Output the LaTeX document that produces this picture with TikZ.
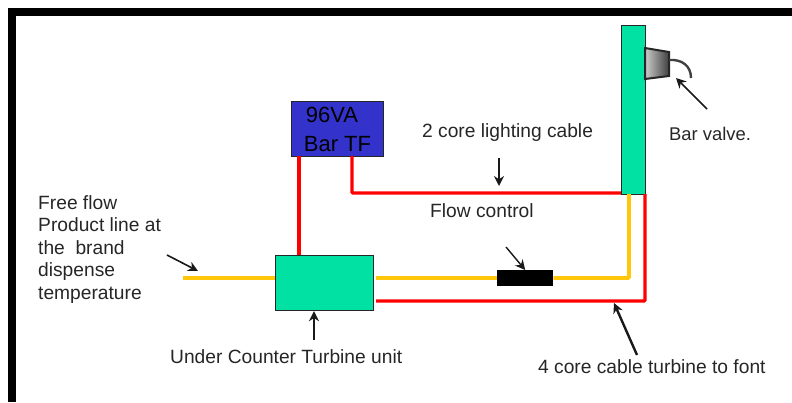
\documentclass[tikz,border=0pt]{standalone}
\usepackage{fontspec}
\setmainfont{Liberation Sans}
\usetikzlibrary{arrows.meta,positioning,shapes}
\definecolor{unitgreen}{HTML}{00E1A3}
\definecolor{tfblue}{HTML}{3333CC}
\definecolor{lineyellow}{HTML}{FFC60A}
\tikzset{
  unitbox/.style={draw=black!85,line width=1.2pt,fill=unitgreen,inner sep=0pt,anchor=north west},
  redline/.style={draw=red,line width=3.4pt,rounded corners=1pt},
  yellowline/.style={draw=lineyellow,line width=3.8pt,rounded corners=1pt},
  leader/.style={-{Stealth[length=10pt,width=10pt]},draw=black!90},
  lbl/.style={font=\fontsize{19.2}{22.6}\selectfont,text=black!85,inner sep=0pt}
}
\begin{document}
\begin{tikzpicture}[x=1pt,y=-1pt]
\useasboundingbox (0,0) rectangle (792,402);
\fill[black] (8,8) rectangle (792,16);
\fill[black] (8,8) rectangle (16,402);
% boxes
\node[unitbox,minimum width=24pt,minimum height=169pt] (font) at (621,25) {};
\node[unitbox,minimum width=98pt,minimum height=55pt] (turbine) at (275,255) {};
\node[draw=black!85,line width=1.2pt,fill=tfblue,inner sep=0pt,anchor=north west,minimum width=92pt,minimum height=55pt] (tf) at (291,101) {};
\node[fill=black,inner sep=0pt,anchor=north west,minimum width=56pt,minimum height=16pt] (flowctl) at (497,270) {};
\node[lbl,font=\fontsize{22}{26}\selectfont,text=black] (tfa) at (332,115) {96VA};
\node[lbl,font=\fontsize{22}{26}\selectfont,text=black] (tfb) at (337.5,144) {Bar TF};
% valve
\shade[left color=black!20,right color=black!75,draw=black!85,line width=2pt] (645,48) -- (669,52) -- (669,76) -- (645,79) -- cycle;
\coordinate (spouta) at (669,60);
\coordinate (spoutb) at (691,78);
\draw[black!75,line width=2.4pt] (spouta) .. controls (682,59) and (691,66) .. (spoutb);
% cables
\coordinate (prodin) at (183,278);
\coordinate (tfl) at (299,156);
\coordinate (tfr) at (352,156);
\coordinate (turbr) at (376,278);
\coordinate (turbrr) at (376,301);
\coordinate (fontb) at (629,194);
\coordinate (fontr) at (645,194);
\draw[yellowline] (prodin) -- (prodin -| turbine.west);
\draw[yellowline] (turbr) -- (turbr -| flowctl.west);
\draw[yellowline] (turbr -| flowctl.east) -- (turbr -| fontb) -- (fontb);
\draw[redline] (tfl) -- (tfl |- turbine.north);
\draw[redline] (tfr) -- (352,193) -- (font.west |- 0,193);
\draw[redline] (turbrr) -- (turbrr -| fontr) -- (fontr);
% labels
\node[lbl,align=left,anchor=north west] (prodlbl) at (38,195) {Free flow\\Product line at\\the\ \ brand\\dispense\\temperature};
\node[lbl,anchor=west] (corelbl) at (422,133) {2 core lighting cable};
\node[lbl,anchor=west] (flowlbl) at (430,211) {Flow control};
\node[lbl,font=\fontsize{18.4}{22}\selectfont,anchor=west] (valvelbl) at (669,134) {Bar valve.};
\node[lbl,anchor=west] (unitlbl) at (170,357) {Under Counter Turbine unit};
\node[lbl,anchor=west] (cablelbl) at (538,367) {4 core cable turbine to font};
% leaders
\coordinate (pa) at (167,255);
\coordinate (pb) at (198,271);
\coordinate (ua) at (314,340);
\coordinate (ca) at (499,158);
\coordinate (cb) at (499,186);
\coordinate (va) at (707,109);
\coordinate (vb) at (676,78);
\coordinate (fa) at (506,247);
\coordinate (ka) at (637,355);
\coordinate (kb) at (614,303);
\draw[leader,line width=1.6pt] (pa) -- (pb);
\draw[leader,line width=2.4pt] (ua) -- (ua |- turbine.south);
\draw[leader,line width=2.4pt] (ca) -- (cb);
\draw[leader,line width=1.6pt] (va) -- (vb);
\draw[leader,line width=1.4pt] (fa) -- (flowctl.north);
\draw[leader,line width=2.4pt] (ka) -- (kb);
\end{tikzpicture}
\end{document}
